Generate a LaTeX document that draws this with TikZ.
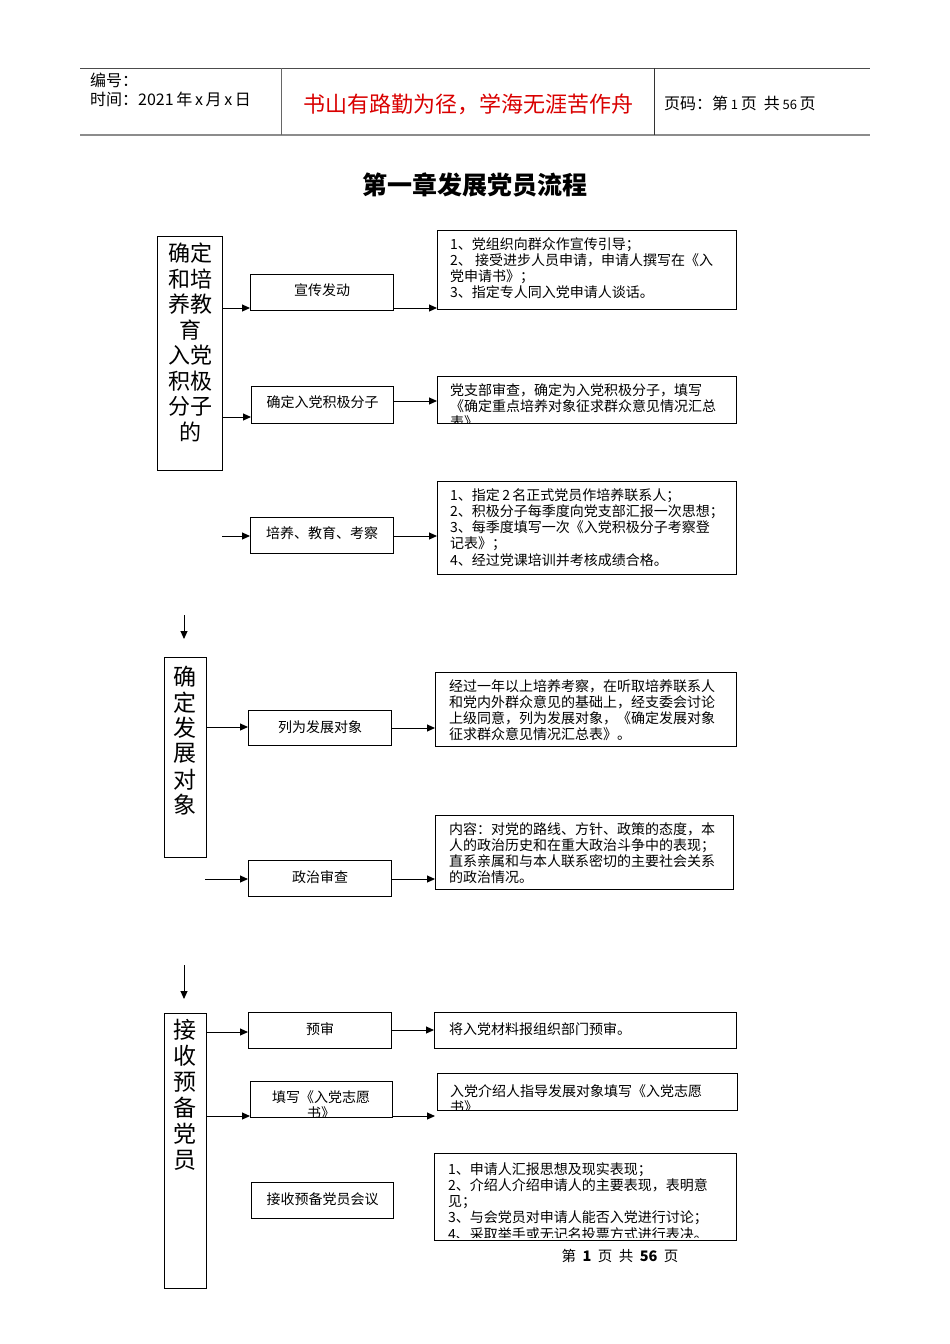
\documentclass[tikz,border=0pt]{standalone}
\usepackage{fontspec}
\setmainfont{Noto Sans CJK SC}
\usetikzlibrary{arrows.meta}
\tikzset{
  box/.style={draw, line width=1.1pt, inner sep=0pt, anchor=north west},
  lbl/.style={inner sep=0pt, font=\fontsize{14}{16}\selectfont},
  sec/.style={draw, line width=1.1pt, inner sep=0pt, anchor=north west},
  txt/.style={inner sep=0pt, anchor=north west, align=left, font=\fontsize{14}{16.3}\selectfont},
  arr/.style={line width=1pt, -{Triangle[length=8pt,width=7pt]}},
}
\begin{document}
\begin{tikzpicture}[x=1pt,y=-1pt]
\useasboundingbox (0,0) rectangle (950,1344);
% header
\draw[line width=0.8pt, black!70] (80,68) -- (870,68);
\draw[line width=1.6pt, black!45] (80,135) -- (870,135);
\draw[line width=0.8pt, black!60] (281,68) -- (281,135);
\draw[line width=0.8pt, black!80] (654,68) -- (654,135);
\node[inner sep=0pt, anchor=west, font=\fontsize{16}{18}\selectfont] (hno) at (90,80) {编号：};
\node[inner sep=0pt, anchor=west, font=\fontsize{16}{18}\selectfont] (htime) at (90,99) {时间：2021\,年\,x\,月\,x\,日};
\node[inner sep=0pt, text=red!85!black, font=\fontsize{22}{26}\selectfont] (hmotto) at (468,104) {书山有路勤为径，学海无涯苦作舟};
\node[inner sep=0pt, anchor=west, font=\fontsize{16}{18}\selectfont] (hpage) at (664,103) {页码：第\,{\fontsize{13}{14}\selectfont 1}\,页\ \ 共\,{\fontsize{13}{14}\selectfont 56}\,页};
% title
\node[inner sep=0pt, font=\fontsize{25}{30}\selectfont\bfseries] (title) at (475,185) {第一章发展党员流程};

% ===== section 1
\node[sec, minimum width=65pt, minimum height=234pt] (s1) at (157,236) {};
\foreach \t [count=\i] in {确定,和培,养教,育,入党,积极,分子,的}
  \node[inner sep=0pt, font=\fontsize{22}{24}\selectfont] (s1c\i) at (190, 253+25.6*\i-25.6) {\t};

\node[box, minimum width=143pt, minimum height=36pt] (b1) at (250,274) {};
\node[lbl] (b1t) at ([yshift=2pt]b1.center) {宣传发动};
\node[box, minimum width=299pt, minimum height=79pt] (d1) at (437,230) {};
\node[txt] (d1t) at (450,237) {1、党组织向群众作宣传引导；\\2、\ 接受进步人员申请，申请人撰写在《入\\党申请书》；\\3、指定专人同入党申请人谈话。};
\draw[arr] (s1.east |- 0,308) -- (b1.west |- 0,308);
\draw[arr] (b1.east |- 0,308) -- (d1.west |- 0,308);

\node[box, minimum width=142pt, minimum height=37pt] (b2) at (251,386) {};
\node[lbl] (b2t) at ([yshift=3pt]b2.center) {确定入党积极分子};
\node[box, minimum width=299pt, minimum height=47pt] (d2) at (437,376) {};
\begin{scope}
\clip (437,376) rectangle (736,423);
\node[txt] (d2t) at (450,383) {党支部审查，确定为入党积极分子，填写\\《确定重点培养对象征求群众意见情况汇总\\表》};
\end{scope}
\draw[arr] (s1.east |- 0,417) -- (b2.west |- 0,417);
\draw[arr] (b2.east |- 0,401) -- (d2.west |- 0,401);

\node[box, minimum width=143pt, minimum height=36pt] (b3) at (250,517) {};
\node[lbl] (b3t) at ([yshift=2pt]b3.center) {培养、教育、考察};
\node[box, minimum width=299pt, minimum height=93pt] (d3) at (437,481) {};
\node[txt] (d3t) at (450,488) {1、指定\,2\,名正式党员作培养联系人；\\2、积极分子每季度向党支部汇报一次思想；\\3、每季度填写一次《入党积极分子考察登\\记表》；\\4、经过党课培训并考核成绩合格。};
\coordinate (a3s) at (222,536);
\draw[arr] (a3s) -- (b3.west |- a3s);
\draw[arr] (b3.east |- 0,536) -- (d3.west |- 0,536);

\coordinate (dn1a) at (184,615);
\coordinate (dn1b) at (184,639);
\draw[arr] (dn1a) -- (dn1b);

% ===== section 2
\node[sec, minimum width=42pt, minimum height=200pt] (s2) at (164,657) {};
\foreach \t [count=\i] in {确,定,发,展,对,象}
  \node[inner sep=0pt, font=\fontsize{23}{25}\selectfont] (s2c\i) at (185, 677+25.6*\i-25.6) {\t};

\node[box, minimum width=143pt, minimum height=35pt] (b4) at (248,710) {};
\node[lbl] (b4t) at ([yshift=1pt]b4.center) {列为发展对象};
\node[box, minimum width=301pt, minimum height=74pt] (d4) at (435,672) {};
\node[txt] (d4t) at (449,679) {经过一年以上培养考察，在听取培养联系人\\和党内外群众意见的基础上，经支委会讨论\\上级同意，列为发展对象，《确定发展对象\\征求群众意见情况汇总表》。};
\draw[arr] (s2.east |- 0,727) -- (b4.west |- 0,727);
\draw[arr] (b4.east |- 0,728) -- (d4.west |- 0,728);

\node[box, minimum width=143pt, minimum height=36pt] (b5) at (248,860) {};
\node[lbl] (b5t) at ([yshift=1pt]b5.center) {政治审查};
\node[box, minimum width=298pt, minimum height=74pt] (d5) at (435,815) {};
\node[txt] (d5t) at (449,822) {内容：对党的路线、方针、政策的态度，本\\人的政治历史和在重大政治斗争中的表现；\\直系亲属和与本人联系密切的主要社会关系\\的政治情况。};
\coordinate (a5s) at (205,879);
\draw[arr] (a5s) -- (b5.west |- a5s);
\draw[arr] (b5.east |- 0,879) -- (d5.west |- 0,879);

\coordinate (dn2a) at (184,965);
\coordinate (dn2b) at (184,999);
\draw[arr] (dn2a) -- (dn2b);

% ===== section 3
\node[sec, minimum width=42pt, minimum height=275pt] (s3) at (164,1013) {};
\foreach \t [count=\i] in {接,收,预,备,党,员}
  \node[inner sep=0pt, font=\fontsize{23}{25}\selectfont] (s3c\i) at (185, 1030+26*\i-26) {\t};

\node[box, minimum width=143pt, minimum height=36pt] (b6) at (248,1012) {};
\node[lbl] (b6t) at ([yshift=1pt]b6.center) {预审};
\node[box, minimum width=302pt, minimum height=36pt] (d6) at (434,1012) {};
\node[lbl, anchor=west] (d6t) at (449,1029) {将入党材料报组织部门预审。};
\draw[arr] (s3.east |- 0,1032) -- (b6.west |- 0,1032);
\draw[arr] (b6.east |- 0,1030) -- (d6.west |- 0,1030);

\node[box, minimum width=142pt, minimum height=36pt] (b7) at (250,1081) {};
\begin{scope}
\clip (250,1081) rectangle (392,1117);
\node[txt, align=center, anchor=north] (b7t) at (321,1090) {填写《入党志愿\\书》};
\end{scope}
\node[box, minimum width=300pt, minimum height=37pt] (d7) at (437,1073) {};
\begin{scope}
\clip (437,1073) rectangle (737,1110);
\node[txt] (d7t) at (450,1084) {入党介绍人指导发展对象填写《入党志愿\\书》};
\end{scope}
\draw[arr] (s3.east |- 0,1116) -- (b7.west |- 0,1116);
\coordinate (a7e) at (435,1116);
\draw[arr] (b7.east |- a7e) -- (a7e);

\node[box, minimum width=142pt, minimum height=36pt] (b8) at (251,1182) {};
\node[lbl] (b8t) at ([yshift=1pt]b8.center) {接收预备党员会议};
\node[box, minimum width=302pt, minimum height=87pt] (d8) at (434,1153) {};
\begin{scope}
\clip (434,1153) rectangle (736,1237);
\node[txt] (d8t) at (448,1162) {1、申请人汇报思想及现实表现；\\2、介绍人介绍申请人的主要表现，表明意\\见；\\3、与会党员对申请人能否入党进行讨论；\\4、采取举手或无记名投票方式进行表决。};
\end{scope}

% footer
\node[inner sep=0pt, font=\fontsize{14.5}{16}\selectfont] (foot) at (620,1256) {第\ \ \textbf{1}\ \ 页\ \ 共\ \ \textbf{56}\ \ 页};
\end{tikzpicture}
\end{document}
